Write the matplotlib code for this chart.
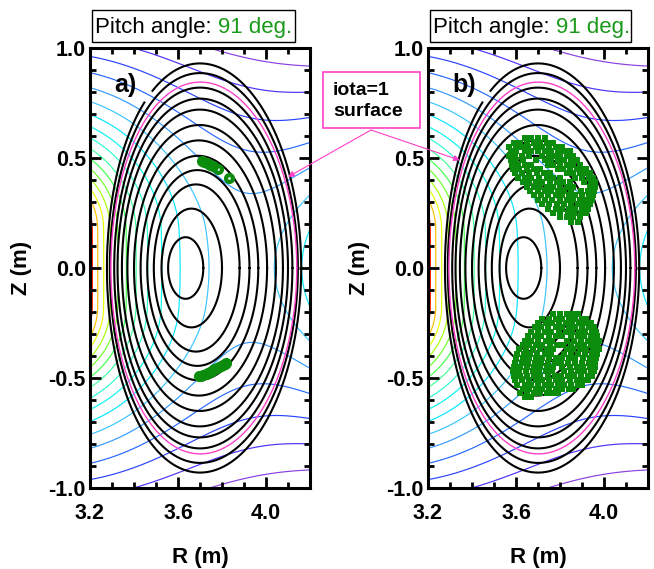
import numpy as np
import matplotlib
matplotlib.use('Agg')
import matplotlib.pyplot as plt
from matplotlib.colors import LinearSegmentedColormap, Normalize
from matplotlib.patches import Rectangle
from matplotlib.ticker import MultipleLocator, FixedLocator, FormatStrFormatter

plt.rcParams['font.family'] = ['Liberation Sans', 'DejaVu Sans']
plt.rcParams['font.weight'] = 'bold'
plt.rcParams['axes.unicode_minus'] = False

W, H = 654, 569

# nested flux surfaces: half height, inboard and outboard edge on the midplane (m)
surf_top = [0.14, 0.27, 0.38, 0.445, 0.51, 0.58, 0.65, 0.72, 0.77, 0.82, 0.886, 0.93]
surf_in = [3.555, 3.525, 3.49, 3.46, 3.43, 3.40, 3.37, 3.345, 3.325, 3.31, 3.29, 3.277]
surf_out = [3.715, 3.80, 3.88, 3.925, 3.965, 4.005, 4.045, 4.077, 4.10, 4.12, 4.145, 4.16]

# iota=1 surface
iota_top = 0.845
iota_in = 3.295
iota_out = 4.14

# |B| contour colours: |B| value -> colour
bmod_nodes = [1.42, 1.55, 1.70, 1.85, 2.0, 2.18, 2.3, 2.6, 2.9, 3.35, 3.64, 3.9, 4.1]
bmod_colors = ['#8a40e0', '#3a30ff', '#2050ff', '#3090ff', '#40c0ff', '#00e8ff',
               '#00f8f0', '#40ffc0', '#40ff40', '#b0ff00', '#ffff00', '#ff9a00', '#ff2000']
bmod_levels = np.exp(1.406 - 0.07 * np.arange(-4, 23))[::-1]

# panel a) orbit (open circles)
orb_a_R = [3.71, 3.72, 3.73, 3.745, 3.76, 3.783, 3.833,
           3.695, 3.705, 3.715, 3.725, 3.735, 3.745, 3.755, 3.765, 3.775,
           3.785, 3.795, 3.805, 3.815, 3.82]
orb_a_Z = [0.485, 0.48, 0.476, 0.47, 0.462, 0.45, 0.408,
           -0.492, -0.49, -0.486, -0.481, -0.477, -0.472, -0.466, -0.461, -0.455,
           -0.45, -0.445, -0.44, -0.436, -0.434]

# panel b) orbit points, rows of Z with the R values hit in that row
orb_b_up_Z = [0.59, 0.57, 0.55, 0.53, 0.51, 0.49, 0.47, 0.45, 0.43, 0.41,
              0.39, 0.37, 0.35, 0.33, 0.31, 0.29, 0.27, 0.25, 0.23, 0.21]
orb_b_up_R = [
    [3.64, 3.67, 3.70, 3.73],
    [3.59, 3.62, 3.65, 3.68, 3.71, 3.74, 3.77],
    [3.57, 3.60, 3.625, 3.655, 3.69, 3.72, 3.75, 3.78, 3.81],
    [3.575, 3.60, 3.64, 3.67, 3.70, 3.73, 3.76, 3.79, 3.82, 3.845],
    [3.57, 3.595, 3.625, 3.66, 3.72, 3.75, 3.775, 3.80, 3.83, 3.86],
    [3.575, 3.60, 3.63, 3.69, 3.73, 3.76, 3.79, 3.82, 3.85, 3.875],
    [3.58, 3.61, 3.64, 3.67, 3.745, 3.77, 3.80, 3.83, 3.86, 3.89],
    [3.585, 3.615, 3.65, 3.68, 3.71, 3.79, 3.815, 3.845, 3.875, 3.905, 3.92],
    [3.595, 3.625, 3.66, 3.695, 3.725, 3.755, 3.83, 3.86, 3.89, 3.915, 3.935],
    [3.61, 3.64, 3.67, 3.705, 3.74, 3.77, 3.80, 3.87, 3.90, 3.93, 3.95],
    [3.63, 3.66, 3.69, 3.72, 3.755, 3.785, 3.815, 3.845, 3.91, 3.94, 3.96],
    [3.65, 3.68, 3.71, 3.74, 3.77, 3.80, 3.83, 3.86, 3.935, 3.96],
    [3.665, 3.70, 3.73, 3.76, 3.79, 3.82, 3.85, 3.895, 3.925, 3.955],
    [3.68, 3.715, 3.745, 3.78, 3.81, 3.84, 3.87, 3.90, 3.93, 3.95],
    [3.70, 3.73, 3.765, 3.80, 3.83, 3.86, 3.89, 3.92, 3.945],
    [3.72, 3.75, 3.785, 3.82, 3.85, 3.88, 3.91, 3.935],
    [3.745, 3.78, 3.81, 3.84, 3.87, 3.90, 3.925],
    [3.77, 3.80, 3.835, 3.865, 3.895, 3.92],
    [3.80, 3.83, 3.86, 3.89],
    [3.85, 3.88],
]
orb_b_lo_Z = [-0.21, -0.23, -0.25, -0.27, -0.29, -0.31, -0.33, -0.35, -0.37, -0.39,
              -0.41, -0.43, -0.45, -0.47, -0.49, -0.51, -0.53, -0.55, -0.57, -0.585]
orb_b_lo_R = [
    [3.77, 3.80, 3.83, 3.86, 3.88],
    [3.72, 3.75, 3.78, 3.81, 3.84, 3.87, 3.90, 3.92],
    [3.70, 3.735, 3.765, 3.795, 3.825, 3.855, 3.885, 3.915, 3.94],
    [3.685, 3.715, 3.745, 3.78, 3.81, 3.84, 3.87, 3.90, 3.93, 3.955],
    [3.67, 3.70, 3.73, 3.76, 3.795, 3.825, 3.855, 3.885, 3.915, 3.945, 3.965],
    [3.655, 3.685, 3.715, 3.75, 3.78, 3.81, 3.85, 3.88, 3.91, 3.94, 3.97],
    [3.64, 3.67, 3.70, 3.735, 3.765, 3.83, 3.865, 3.895, 3.925, 3.95, 3.975],
    [3.63, 3.66, 3.69, 3.72, 3.755, 3.785, 3.815, 3.85, 3.88, 3.91, 3.94, 3.97],
    [3.615, 3.645, 3.675, 3.71, 3.74, 3.77, 3.83, 3.86, 3.89, 3.92, 3.95, 3.975],
    [3.605, 3.635, 3.665, 3.695, 3.73, 3.76, 3.82, 3.85, 3.88, 3.915, 3.945, 3.97],
    [3.60, 3.63, 3.66, 3.69, 3.72, 3.75, 3.78, 3.81, 3.84, 3.87, 3.905, 3.935, 3.965],
    [3.595, 3.625, 3.655, 3.685, 3.715, 3.745, 3.775, 3.805, 3.835, 3.87, 3.90, 3.93, 3.96],
    [3.59, 3.62, 3.65, 3.68, 3.71, 3.74, 3.77, 3.81, 3.845, 3.875, 3.905, 3.935, 3.96],
    [3.585, 3.615, 3.645, 3.675, 3.705, 3.735, 3.765, 3.82, 3.85, 3.88, 3.91, 3.94, 3.955],
    [3.59, 3.62, 3.65, 3.68, 3.71, 3.745, 3.775, 3.805, 3.835, 3.865, 3.895, 3.925, 3.945],
    [3.595, 3.625, 3.66, 3.69, 3.72, 3.75, 3.78, 3.81, 3.845, 3.875, 3.905, 3.925],
    [3.605, 3.64, 3.67, 3.70, 3.73, 3.76, 3.79, 3.82, 3.85, 3.88, 3.90],
    [3.63, 3.66, 3.69, 3.72, 3.75, 3.78, 3.81, 3.84, 3.86],
    [3.62, 3.65, 3.68, 3.71, 3.74, 3.77, 3.79],
    [3.64, 3.67],
]

green = '#0c8c0c'
pink = '#ff40c8'


def bmod(R, Z):
    # rough model of the |B| map: inboard helical coil leg (short vertical
    # segment) plus the outboard leg
    d1 = np.hypot(R - 2.93, np.clip(np.abs(Z) - 0.176, 0, None))
    d2 = np.hypot(R - 4.75, Z)
    return 1.0 / d1 + 0.8 / d2


def rows_to_xy(zrows, rrows):
    rr, zz = [], []
    for z, rs in zip(zrows, rrows):
        rr.extend(rs)
        zz.extend([z] * len(rs))
    return rr, zz


vlo, vhi = bmod_nodes[0], bmod_nodes[-1]
cmap = LinearSegmentedColormap.from_list('bmod', list(zip(
    [(v - vlo) / (vhi - vlo) for v in bmod_nodes], bmod_colors)))
norm = Normalize(vmin=vlo, vmax=vhi, clip=True)


def draw_panel(ax, letter):
    rg, zg = np.meshgrid(np.linspace(3.18, 4.22, 300), np.linspace(-1.02, 1.02, 600))
    ax.contour(rg, zg, bmod(rg, zg), levels=bmod_levels, cmap=cmap, norm=norm,
               linewidths=0.85, zorder=1)

    th = np.linspace(0, 2 * np.pi, 721)
    nsurf = len(surf_top)
    for k, (b, ri, ro) in enumerate(zip(surf_top, surf_in, surf_out)):
        c = 0.5 * (ri + ro)
        a = 0.5 * (ro - ri)
        rs = c + a * np.cos(th + 0.045 * b * np.sin(th))
        zs = b * np.sin(th)
        if k == nsurf - 1:
            gap = (rs < c) & (zs > 0.755) & (zs < 0.805)
            rs = np.where(gap, np.nan, rs)
        ax.plot(rs, zs, color='k', lw=1.5, zorder=3)

    c = 0.5 * (iota_in + iota_out)
    a = 0.5 * (iota_out - iota_in)
    ax.plot(c + a * np.cos(th + 0.045 * iota_top * np.sin(th)), iota_top * np.sin(th),
            color=pink, lw=1.0, zorder=4)

    ax.set_xlim(3.2, 4.2)
    ax.set_ylim(-1.0, 1.0)
    ax.xaxis.set_major_locator(FixedLocator([3.2, 3.6, 4.0]))
    ax.xaxis.set_minor_locator(MultipleLocator(0.1))
    ax.yaxis.set_major_locator(MultipleLocator(0.5))
    ax.yaxis.set_minor_locator(MultipleLocator(0.1))
    ax.xaxis.set_major_formatter(FormatStrFormatter('%.1f'))
    ax.yaxis.set_major_formatter(FormatStrFormatter('%.1f'))
    ax.tick_params(which='both', direction='in', top=True, right=True, width=2,
                   labelsize=15.5)
    ax.tick_params(which='major', length=8)
    ax.tick_params(which='minor', length=4.5)
    ax.tick_params(axis='x', pad=10.5)
    ax.tick_params(axis='y', pad=3)
    for sp in ax.spines.values():
        sp.set_linewidth(2.2)

    ax.set_xlabel('R (m)', fontsize=16, fontweight='bold')
    ax.set_ylabel('Z (m)', fontsize=16, fontweight='bold')
    ax.xaxis.set_label_coords(0.5, -0.134)
    ax.yaxis.set_label_coords(-0.262, 0.5)

    ax.text(3.31, 0.83, letter, fontsize=18, fontweight='bold', va='center', ha='left',
            zorder=6)


fig = plt.figure(figsize=(W / 100, H / 100), dpi=100)
ax_a = fig.add_axes([90 / W, 1 - 488 / H, 220 / W, 440 / H])
ax_b = fig.add_axes([428 / W, 1 - 488 / H, 220 / W, 440 / H])

draw_panel(ax_a, 'a)')
draw_panel(ax_b, 'b)')

ax_a.plot(orb_a_R, orb_a_Z, 'o', ms=5, mfc='none', mec=green, mew=3, zorder=5)
bu_R, bu_Z = rows_to_xy(orb_b_up_Z, orb_b_up_R)
bl_R, bl_Z = rows_to_xy(orb_b_lo_Z, orb_b_lo_R)
ax_b.plot(bu_R, bu_Z, 's', ms=4.0, color=green, mew=0, zorder=5)
ax_b.plot(bl_R, bl_Z, 's', ms=4.0, color=green, mew=0, zorder=5)

# title boxes
for ax, (bx0, bx1) in ((ax_a, (92, 295)), (ax_b, (430, 631))):
    fig.patches.append(Rectangle((bx0 / W, 1 - 42 / H), (bx1 - bx0) / W, 32 / H,
                                 transform=fig.transFigure, fill=False, ec='k', lw=1.0))
    t1 = fig.text((bx0 + 3) / W, 1 - 38 / H, 'Pitch angle:', fontsize=16,
                  fontweight='normal', va='bottom', ha='left')
    ax.annotate('91 deg.', xy=(1, 0), xycoords=t1, xytext=(4.4, 0),
                textcoords='offset points', va='bottom', ha='left', fontsize=16,
                fontweight='normal', color='#1a9a1a', annotation_clip=False)

# iota=1 callout
fig.patches.append(Rectangle((323 / W, 1 - 128 / H), 97 / W, 56 / H,
                             transform=fig.transFigure, fill=False, ec=pink, lw=1.2))
fig.text(333 / W, 1 - 101 / H, 'iota=1\nsurface', fontsize=14, fontweight='bold',
         va='center', ha='left', linespacing=1.25)
for ax, xy in ((ax_a, (4.10, 0.414)), (ax_b, (3.345, 0.49))):
    ax.annotate('', xy=xy, xycoords='data', xytext=(371, H - 130),
                textcoords='figure pixels', annotation_clip=False,
                arrowprops=dict(arrowstyle='-|>', color=pink, lw=0.8,
                                shrinkA=0, shrinkB=0, mutation_scale=9), zorder=6)

fig.savefig('out.png', dpi=100)
